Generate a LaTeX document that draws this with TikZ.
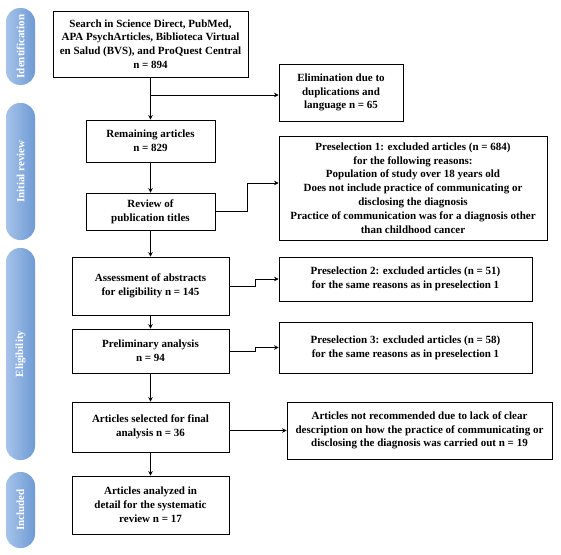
\documentclass[tikz,border=0pt]{standalone}
\usepackage{fontspec}
\setmainfont{Liberation Serif}
\usetikzlibrary{arrows.meta,calc}
\definecolor{pillL}{HTML}{A6C3EA}
\definecolor{pillR}{HTML}{6E9AD4}
\tikzset{
  box/.style={draw=black, line width=0.8pt, align=center, font=\bfseries\fontsize{11}{13.8}\selectfont, inner sep=2pt},
  arr/.style={draw=black, line width=0.8pt, -{Stealth[length=4.5pt,width=4.5pt]}},
  pill/.style={rounded corners=14pt, left color=pillL, right color=pillR, draw=none},
  pilltext/.style={text=white, font=\bfseries\fontsize{11}{12}\selectfont, rotate=90}
}
\begin{document}
\begin{tikzpicture}[x=1pt,y=-1pt]
\useasboundingbox[fill=white] (0,0) rectangle (561,554);
% side pills
\path[pill] (6,8) rectangle (35,85);
\node[pilltext] (pid) at (20.5,46.5) {Identification};
\path[pill] (6,103) rectangle (35,240);
\node[pilltext] (pir) at (20.5,171.5) {Initial review};
\path[pill] (6,248) rectangle (35,460);
\node[pilltext] (pel) at (20.5,354) {Eligibility};
\path[pill] (6,472) rectangle (35,548);
\node[pilltext] (pin) at (20.5,510) {Included};
% boxes
\node[box, minimum width=195pt, minimum height=66pt] (search) at (150.5,44) {Search in Science Direct, PubMed,\\APA PsychArticles, Biblioteca Virtual\\en Salud (BVS), and ProQuest Central\\n = 894};
\node[box, minimum width=124pt, minimum height=57pt] (elim) at (341,92.5) {Elimination due to\\duplications and\\language n = 65};
\node[box, minimum width=129pt, minimum height=42pt] (remain) at (150.5,141) {Remaining articles\\n = 829};
\node[box, minimum width=129pt, minimum height=37pt] (review) at (150.5,211.5) {Review of\\publication titles};
\node[box, minimum width=268pt, minimum height=104pt] (pre1) at (413,188) {Preselection 1: excluded articles (n = 684)\\for the following reasons:\\Population of study over 18 years old\\Does not include practice of communicating or\\disclosing the diagnosis\\Practice of communication was for a diagnosis other\\than childhood cancer};
\node[box, minimum width=157pt, minimum height=58pt] (assess) at (150.5,286) {Assessment of abstracts\\for eligibility n = 145};
\node[box, minimum width=253pt, minimum height=44pt] (pre2) at (405.5,279) {Preselection 2: excluded articles (n = 51)\\for the same reasons as in preselection 1};
\node[box, minimum width=157pt, minimum height=44pt] (prelim) at (150.5,351) {Preliminary analysis\\n = 94};
\node[box, minimum width=253pt, minimum height=51pt] (pre3) at (405.5,347.5) {Preselection 3: excluded articles (n = 58)\\for the same reasons as in preselection 1};
\node[box, minimum width=157pt, minimum height=50pt] (select) at (150.5,427) {Articles selected for final\\analysis n = 36};
\node[box, minimum width=265pt, minimum height=57pt] (notrec) at (419.5,430.5) {Articles not recommended due to lack of clear\\description on how the practice of communicating or\\disclosing the diagnosis was carried out n = 19};
\node[box, minimum width=157pt, minimum height=58pt] (incl) at (150.5,505) {Articles analyzed in\\detail for the systematic\\review n = 17};
% connectors
\coordinate (branch) at (150.5,95);
\draw[arr] (search.south) -- (remain.north);
\draw[arr] (branch) -- (branch -| elim.west);
\draw[arr] (remain.south) -- (review.north);
\draw[arr] (review.east) -- ++(32,0) |- ([yshift=5pt]pre1.west);
\draw[arr] (review.south) -- (assess.north);
\draw[arr] (assess.east) -- ++(26,0) |- (pre2.west);
\draw[arr] (assess.south) -- (prelim.north);
\draw[arr] (prelim.east) -- ++(26,0) |- (pre3.west);
\draw[arr] (prelim.south) -- (select.north);
\draw[arr] (notrec.west -| select.east) -- (notrec.west);
\draw[arr] (select.south) -- (incl.north);
\end{tikzpicture}
\end{document}
